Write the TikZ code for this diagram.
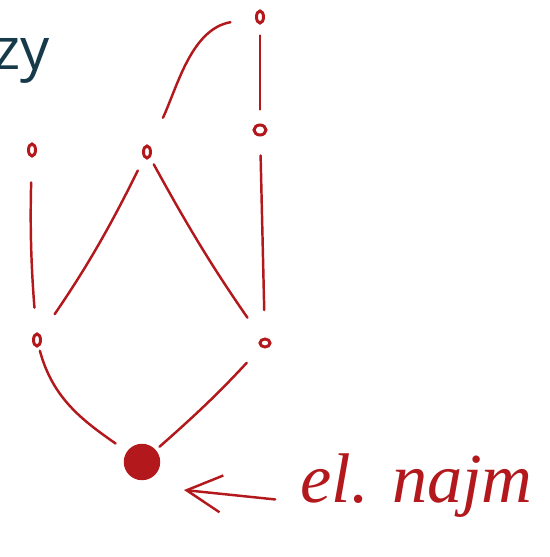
\documentclass[tikz,border=0pt]{standalone}
\usepackage{fontspec}
\usetikzlibrary{arrows.meta,shapes.geometric}
\newfontfamily\slidefont{Open Sans}
\definecolor{handred}{RGB}{178,24,28}
\definecolor{inkdark}{RGB}{22,58,74}
\tikzset{
  vtx/.style={draw=handred, ellipse, line width=1.7pt, inner sep=0pt, minimum width=0.14cm, minimum height=0.24cm},
  bigvtx/.style={draw=handred, fill=handred, circle, line width=1.4pt, inner sep=0pt, minimum size=0.68cm},
  edge/.style={draw=handred, line width=1.4pt, line cap=round},
  hand/.style={draw=handred, line width=1.4pt, line cap=round, line join=round}
}
\begin{document}
\begin{tikzpicture}[x=0.02cm, y=0.02cm,
  lbl/.style={font=\fontspec{Liberation Serif}\itshape\fontsize{40}{44}\selectfont, text=handred, inner sep=0pt}
]
\useasboundingbox (0,0) rectangle (550,-557);
% slide text behind the ink
\node[font=\slidefont\fontsize{33}{38}\selectfont, text=inkdark, anchor=base west, inner sep=0pt] (zy) at (-7,-70) {zy};
% vertices of the order
\node[vtx] (t) at (260,-17) {};
\node[vtx] (c) at (32,-150) {};
\node[vtx] (m) at (147,-152) {};
\node[vtx, minimum width=0.24cm, minimum height=0.2cm] (r) at (260,-130) {};
\node[vtx] (ll) at (37,-340) {};
\node[vtx, minimum width=0.2cm, minimum height=0.16cm] (lr) at (265,-343) {};
\node[bigvtx] (b) at (142,-462) {};
% covering edges
\draw[edge, shorten <=0.5cm, shorten >=0.62cm] (t) to[out=190, in=65] (m);
\draw[edge, shorten <=0.22cm, shorten >=0.28cm] (t) -- (r);
\draw[edge, shorten <=0.5cm, shorten >=0.5cm] (c) to[bend right=3] (ll);
\draw[edge, shorten <=0.28cm, shorten >=0.5cm] (m) to[bend left=4] (ll);
\draw[edge, shorten <=0.15cm, shorten >=0.5cm] (m) to[bend right=3] (lr);
\draw[edge, shorten <=0.38cm, shorten >=0.55cm] (r) -- (lr);
\draw[edge, shorten <=0.08cm, shorten >=0.28cm] (ll) to[out=-75, in=145] (b);
\draw[edge, shorten <=0.42cm, shorten >=0.1cm] (lr) to[bend left=3] (b);
% note on the least element
\node[lbl, anchor=base west] (note) at (300,-502) {el. najm};
\coordinate (arrtip) at (184,-490);
\draw[hand, -{Straight Barb[length=0.7cm, width=0.74cm, line width=1.4pt]}, shorten <=0.5cm] (note.base west) -- (arrtip);
\end{tikzpicture}
\end{document}
